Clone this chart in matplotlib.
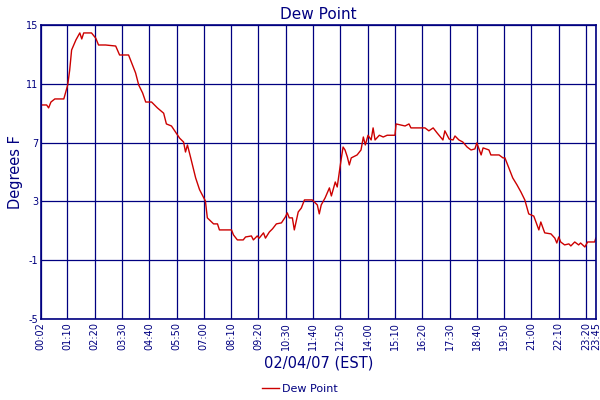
import matplotlib
matplotlib.use("Agg")
import matplotlib.pyplot as plt

navy = "#000080"

# minutes after midnight, dew point (F)
minutes = [2, 17, 22, 28, 38, 61, 71, 76, 81, 92, 102, 107, 112, 132, 143, 150, 168, 194, 204, 227,
           237, 245, 253, 263, 271, 286, 301, 317, 324, 337, 353, 358, 368, 373, 378, 386, 399, 409,
           424, 429, 440, 445, 455, 460, 491, 496, 506, 521, 527, 542, 547, 557, 562, 573, 578, 588,
           596, 606, 619, 629, 634, 639, 647, 652, 662, 670, 678, 698, 711, 716, 721, 731, 742, 747,
           757, 762, 770, 777, 782, 788, 793, 798, 813, 823, 829, 834, 841, 849, 854, 859, 870, 880,
           890, 910, 913, 936, 946, 951, 962, 987, 997, 1008, 1018, 1033, 1038, 1049, 1059, 1064,
           1074, 1084, 1095, 1105, 1115, 1120, 1131, 1136, 1151, 1156, 1177, 1187, 1192, 1202, 1212,
           1223, 1233, 1243, 1253, 1266, 1279, 1284, 1294, 1310, 1320, 1325, 1330, 1335, 1345, 1356,
           1361, 1371, 1381, 1386, 1397, 1404, 1422, 1425]
dew = [9.56, 9.56, 9.36, 9.76, 9.97, 9.97, 10.92, 11.92, 13.3, 13.98, 14.46, 14.05, 14.46, 14.46,
       14.1, 13.64, 13.64, 13.57, 12.96, 12.96, 12.28, 11.74, 10.92, 10.38, 9.76, 9.76, 9.36, 9.0,
       8.27, 8.13, 7.5, 7.3, 7.04, 6.36, 6.84, 6.0, 4.6, 3.8, 3.03, 1.88, 1.6, 1.47, 1.47, 1.06,
       1.06, 0.72, 0.38, 0.38, 0.58, 0.65, 0.38, 0.65, 0.5, 0.86, 0.5, 0.92, 1.13, 1.47, 1.54,
       1.94, 2.22, 1.88, 1.88, 1.06, 2.28, 2.55, 3.1, 3.1, 2.76, 2.15, 2.76, 3.24, 3.92, 3.37,
       4.32, 3.98, 5.48, 6.7, 6.5, 6.02, 5.48, 5.96, 6.16, 6.5, 7.38, 6.84, 7.5, 7.18, 8.0, 7.18,
       7.5, 7.38, 7.5, 7.5, 8.27, 8.13, 8.27, 8.0, 8.0, 8.0, 7.8, 8.0, 7.66, 7.18, 7.8, 7.24, 7.18,
       7.45, 7.18, 7.04, 6.7, 6.5, 6.57, 6.98, 6.16, 6.64, 6.5, 6.16, 6.16, 5.96, 5.96, 5.28, 4.6,
       4.12, 3.64, 3.1, 2.15, 2.0, 1.06, 1.6, 0.86, 0.79, 0.5, 0.17, 0.58, 0.24, 0.04, 0.11, -0.03,
       0.24, 0.04, 0.17, -0.1, 0.24, 0.24, 0.5]

tick_minutes = [2] + list(range(70, 1401, 70)) + [1425]
tick_labels = ["%02d:%02d" % (m // 60, m % 60) for m in tick_minutes]
y_ticks = [-5, -1, 3, 7, 11, 15]

fig = plt.figure(figsize=(6, 4), dpi=100)
ax = fig.add_axes([0.068, 0.2025, 0.925, 0.735])
ax.plot(minutes, dew, color="#cc0000", linewidth=1, label="Dew Point")

ax.set_xlim(2, 1425)
ax.set_ylim(-5, 15)
ax.set_xticks(tick_minutes)
ax.set_xticklabels(tick_labels, rotation=90, fontsize=7, color=navy)
ax.set_yticks(y_ticks)
ax.set_yticklabels([str(v) for v in y_ticks], fontsize=7, color=navy)
ax.tick_params(length=0, pad=2)
ax.grid(True, color=navy, linewidth=0.9)
for s in ax.spines.values():
    s.set_color(navy)
    s.set_linewidth(1.2)

ax.set_title("Dew Point", fontsize=11, color=navy, pad=4)
ax.set_xlabel("02/04/07 (EST)", fontsize=10.5, color=navy, labelpad=4)
ax.set_ylabel("Degrees F", fontsize=10.5, color=navy, labelpad=2)
leg = fig.legend(loc="lower center", bbox_to_anchor=(0.5, -0.01), frameon=False,
                 fontsize=8, handlelength=1.5, handletextpad=0.3)
for t in leg.get_texts():
    t.set_color(navy)

fig.savefig("out.png", dpi=100)
